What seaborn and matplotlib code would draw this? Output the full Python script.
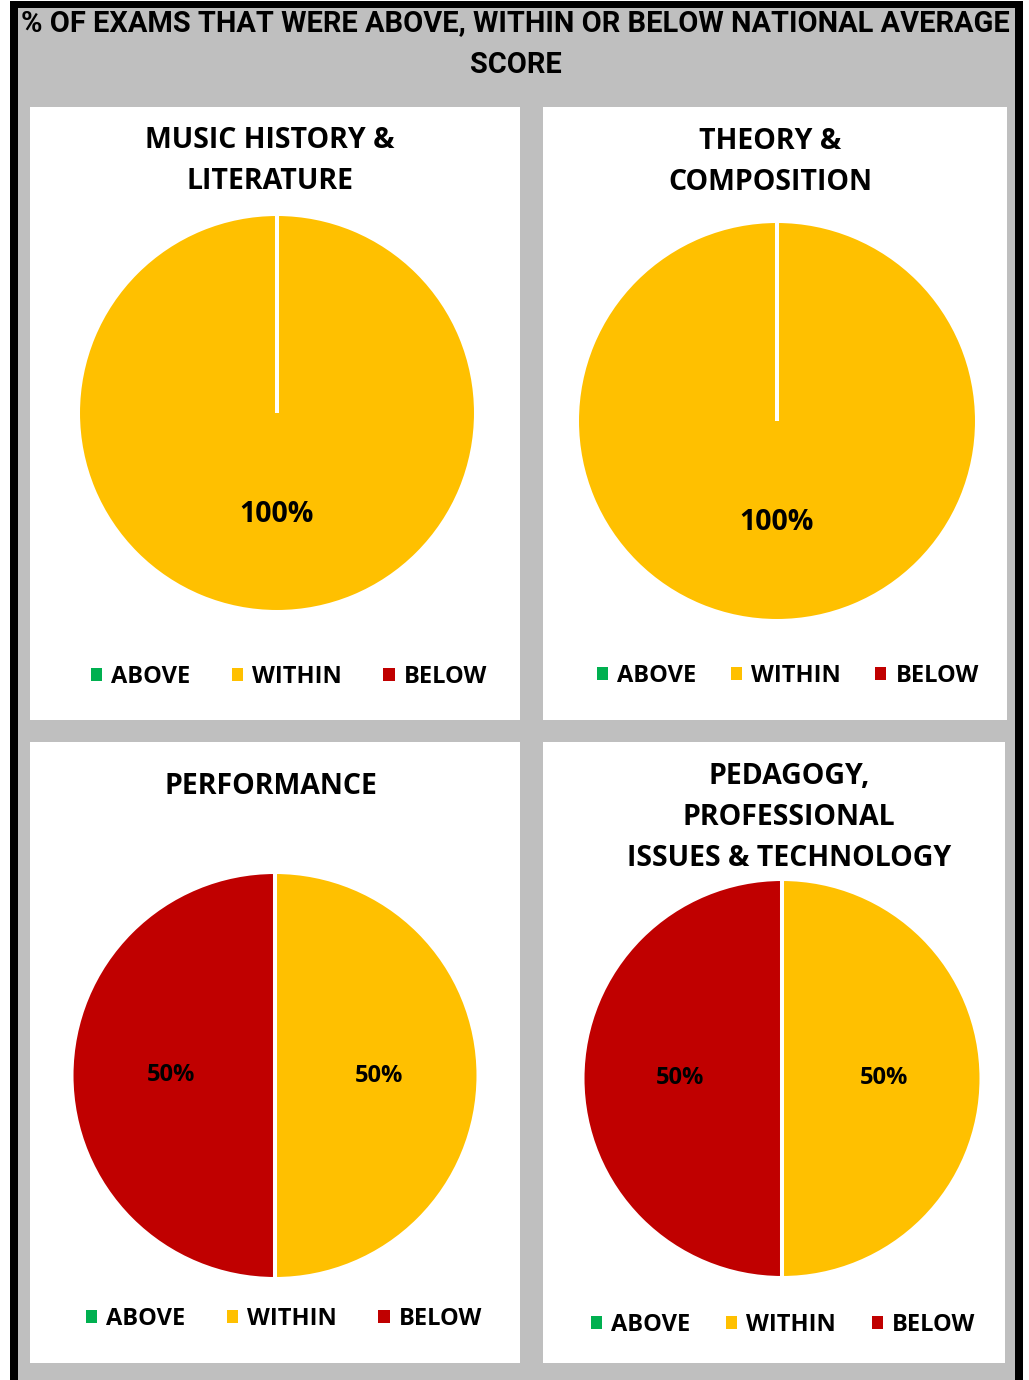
import matplotlib
matplotlib.use("Agg")
import matplotlib.pyplot as plt
from matplotlib.patches import Rectangle, Patch
import seaborn as sns

# data
categories = ["ABOVE", "WITHIN", "BELOW"]
music_history = [0, 100, 0]
theory_composition = [0, 100, 0]
performance = [0, 50, 50]
pedagogy = [0, 50, 50]
panel_titles = [
    ["MUSIC HISTORY &", "LITERATURE"],
    ["THEORY &", "COMPOSITION"],
    ["PERFORMANCE"],
    ["PEDAGOGY,", "PROFESSIONAL", "ISSUES & TECHNOLOGY"],
]
main_title = ["% OF EXAMS THAT WERE ABOVE, WITHIN OR BELOW NATIONAL AVERAGE", "SCORE"]

sns.set_theme(style="white")
plt.rcParams["font.family"] = ["Open Sans", "DejaVu Sans"]
plt.rcParams["text.color"] = "black"
colors = sns.color_palette(["#00B050", "#FFC000", "#C00000"])

W, H = 1029, 1380
fig = plt.figure(figsize=(W / 100, H / 100), dpi=100, facecolor="white")

# background axes in pixel coords
bg = fig.add_axes([0, 0, 1, 1])
bg.set_xlim(0, W)
bg.set_ylim(H, 0)
bg.axis("off")
bg.add_patch(Rectangle((10, 1), 1013, 1380, facecolor="black", edgecolor="none"))
bg.add_patch(Rectangle((18, 8), 997, 1380, facecolor="#BFBFBF", edgecolor="none"))

# panels: (x0, y0, x1, y1)
panels = [(30, 107, 520, 720), (543, 107, 1007, 720),
          (30, 742, 520, 1363), (543, 742, 1005, 1363)]
for x0, y0, x1, y1 in panels:
    bg.add_patch(Rectangle((x0, y0), x1 - x0, y1 - y0, facecolor="white", edgecolor="none"))

# main title, fitted to width
title_font = ["Roboto", "DejaVu Sans"]
t1 = bg.text(515, 31, main_title[0], ha="center", va="baseline", fontsize=19,
             fontweight="bold", family=title_font, color="black")
fig.canvas.draw()
bw = t1.get_window_extent(renderer=fig.canvas.get_renderer()).width
t1.set_fontsize(19 * 985 / bw)
bg.text(516, 73, main_title[1], ha="center", va="baseline", fontsize=t1.get_fontsize(),
        fontweight="bold", family=title_font, color="black")

# panel titles
title_pos = [(270, [148, 189]), (770, [149, 190]), (271, [794]), (789, [784, 825, 866])]
for lines, (tx, ys) in zip(panel_titles, title_pos):
    for line, ty in zip(lines, ys):
        bg.text(tx, ty, line, ha="center", va="baseline", fontsize=20.5,
                fontweight="bold", color="black")

# pies: center x, center y, radius (px)
pie_data = [music_history, theory_composition, performance, pedagogy]
pie_geom = [(277, 413, 199), (777, 421, 200), (275, 1075.5, 203.5), (782, 1078.5, 199.5)]
label_size = [20.5, 20.5, 17, 17]
legend_pos = [(289, 677), (788, 676), (284, 1319), (783, 1325)]
legend_gap = [1.75, 1.45, 1.75, 1.5]

pad = 1.05
for vals, (cx, cy, r), ls, (lx, ly), gap in zip(pie_data, pie_geom, label_size, legend_pos, legend_gap):
    rr = r * pad
    ax = fig.add_axes([(cx - rr) / W, 1 - (cy + rr) / H, 2 * rr / W, 2 * rr / H])
    ax.pie(vals, colors=colors, startangle=90, counterclock=False, radius=1,
           autopct=lambda p: f"{p:.0f}%" if p > 0 else "", pctdistance=0.51,
           wedgeprops=dict(edgecolor="white", linewidth=2.9),
           textprops=dict(fontsize=ls, fontweight="bold", color="black"))
    ax.set_xlim(-pad, pad)
    ax.set_ylim(-pad, pad)
    ax.set_aspect("equal")
    ax.axis("off")

    handles = [Patch(facecolor=c, edgecolor="none") for c in colors]
    leg = ax.legend(handles, categories, ncol=3, loc="center",
                    bbox_to_anchor=(lx / W, 1 - ly / H), bbox_transform=fig.transFigure,
                    frameon=False, handlelength=0.47, handleheight=0.47,
                    handletextpad=0.4, columnspacing=gap,
                    prop=dict(size=17, weight="bold"))
    for txt in leg.get_texts():
        txt.set_color("black")

fig.savefig("out.png", dpi=100, facecolor="white")
